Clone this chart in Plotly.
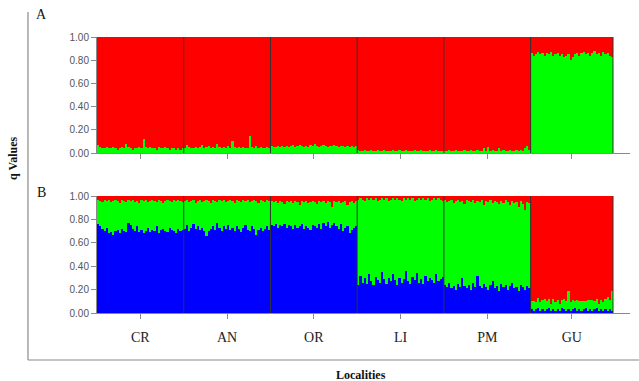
import plotly.graph_objects as go

# Sampling localities and number of individuals per locality
LOCALITIES = ["CR", "AN", "OR", "LI", "PM", "GU"]
COUNTS = [40, 40, 40, 40, 40, 38]

# Panel A (K = 2): membership coefficients per individual
A_GREEN = [
    # CR
    0.07, 0.05, 0.04, 0.04, 0.05, 0.04, 0.04, 0.05, 0.04, 0.03,
    0.04, 0.05, 0.04, 0.08, 0.05, 0.04, 0.03, 0.04, 0.04, 0.05,
    0.04, 0.12, 0.05, 0.04, 0.05, 0.04, 0.04, 0.03, 0.05, 0.04,
    0.04, 0.05, 0.04, 0.03, 0.04, 0.04, 0.03, 0.04, 0.03, 0.04,
    # AN
    0.04, 0.07, 0.05, 0.04, 0.04, 0.05, 0.04, 0.05, 0.07, 0.04,
    0.05, 0.06, 0.04, 0.05, 0.04, 0.08, 0.05, 0.04, 0.05, 0.04,
    0.06, 0.04, 0.10, 0.05, 0.04, 0.05, 0.04, 0.05, 0.04, 0.04,
    0.15, 0.05, 0.04, 0.06, 0.04, 0.05, 0.04, 0.04, 0.05, 0.04,
    # OR
    0.06, 0.05, 0.05, 0.06, 0.05, 0.06, 0.05, 0.06, 0.05, 0.06,
    0.07, 0.05, 0.06, 0.07, 0.06, 0.05, 0.06, 0.05, 0.07, 0.06,
    0.08, 0.06, 0.05, 0.06, 0.07, 0.06, 0.05, 0.06, 0.06, 0.07,
    0.06, 0.05, 0.06, 0.06, 0.05, 0.06, 0.05, 0.06, 0.05, 0.06,
    # LI
    0.03, 0.02, 0.02, 0.03, 0.02, 0.02, 0.03, 0.02, 0.02, 0.03,
    0.02, 0.02, 0.03, 0.02, 0.02, 0.02, 0.03, 0.02, 0.02, 0.03,
    0.02, 0.02, 0.03, 0.02, 0.02, 0.02, 0.03, 0.02, 0.02, 0.03,
    0.02, 0.02, 0.02, 0.03, 0.02, 0.02, 0.03, 0.02, 0.02, 0.02,
    # PM
    0.02, 0.02, 0.03, 0.02, 0.02, 0.03, 0.02, 0.02, 0.02, 0.03,
    0.02, 0.02, 0.03, 0.02, 0.02, 0.03, 0.02, 0.02, 0.04, 0.02,
    0.05, 0.02, 0.03, 0.02, 0.02, 0.04, 0.02, 0.03, 0.02, 0.02,
    0.03, 0.02, 0.02, 0.03, 0.02, 0.03, 0.02, 0.04, 0.06, 0.03,
    # GU
    0.86, 0.84, 0.85, 0.87, 0.85, 0.86, 0.84, 0.86, 0.85, 0.87,
    0.84, 0.85, 0.86, 0.84, 0.85, 0.83, 0.84, 0.85, 0.80, 0.83,
    0.85, 0.86, 0.84, 0.86, 0.87, 0.85, 0.86, 0.84,
    0.86, 0.88, 0.85, 0.86, 0.84, 0.87, 0.85, 0.86, 0.84, 0.83,
]

A_RED = [
    # CR
    0.93, 0.95, 0.96, 0.96, 0.95, 0.96, 0.96, 0.95, 0.96, 0.97,
    0.96, 0.95, 0.96, 0.92, 0.95, 0.96, 0.97, 0.96, 0.96, 0.95,
    0.96, 0.88, 0.95, 0.96, 0.95, 0.96, 0.96, 0.97, 0.95, 0.96,
    0.96, 0.95, 0.96, 0.97, 0.96, 0.96, 0.97, 0.96, 0.97, 0.96,
    # AN
    0.96, 0.93, 0.95, 0.96, 0.96, 0.95, 0.96, 0.95, 0.93, 0.96,
    0.95, 0.94, 0.96, 0.95, 0.96, 0.92, 0.95, 0.96, 0.95, 0.96,
    0.94, 0.96, 0.90, 0.95, 0.96, 0.95, 0.96, 0.95, 0.96, 0.96,
    0.85, 0.95, 0.96, 0.94, 0.96, 0.95, 0.96, 0.96, 0.95, 0.96,
    # OR
    0.94, 0.95, 0.95, 0.94, 0.95, 0.94, 0.95, 0.94, 0.95, 0.94,
    0.93, 0.95, 0.94, 0.93, 0.94, 0.95, 0.94, 0.95, 0.93, 0.94,
    0.92, 0.94, 0.95, 0.94, 0.93, 0.94, 0.95, 0.94, 0.94, 0.93,
    0.94, 0.95, 0.94, 0.94, 0.95, 0.94, 0.95, 0.94, 0.95, 0.94,
    # LI
    0.97, 0.98, 0.98, 0.97, 0.98, 0.98, 0.97, 0.98, 0.98, 0.97,
    0.98, 0.98, 0.97, 0.98, 0.98, 0.98, 0.97, 0.98, 0.98, 0.97,
    0.98, 0.98, 0.97, 0.98, 0.98, 0.98, 0.97, 0.98, 0.98, 0.97,
    0.98, 0.98, 0.98, 0.97, 0.98, 0.98, 0.97, 0.98, 0.98, 0.98,
    # PM
    0.98, 0.98, 0.97, 0.98, 0.98, 0.97, 0.98, 0.98, 0.98, 0.97,
    0.98, 0.98, 0.97, 0.98, 0.98, 0.97, 0.98, 0.98, 0.96, 0.98,
    0.95, 0.98, 0.97, 0.98, 0.98, 0.96, 0.98, 0.97, 0.98, 0.98,
    0.97, 0.98, 0.98, 0.97, 0.98, 0.97, 0.98, 0.96, 0.94, 0.97,
    # GU
    0.14, 0.16, 0.15, 0.13, 0.15, 0.14, 0.16, 0.14, 0.15, 0.13,
    0.16, 0.15, 0.14, 0.16, 0.15, 0.17, 0.16, 0.15, 0.20, 0.17,
    0.15, 0.14, 0.16, 0.14, 0.13, 0.15, 0.14, 0.16,
    0.14, 0.12, 0.15, 0.14, 0.16, 0.13, 0.15, 0.14, 0.16, 0.17,
]

# Panel B (K = 3): membership coefficients per individual
B_BLUE = [
    # CR
    0.76, 0.74, 0.72, 0.70, 0.73, 0.68, 0.69, 0.67, 0.70, 0.71,
    0.68, 0.72, 0.70, 0.69, 0.77, 0.75, 0.72, 0.70, 0.74, 0.69,
    0.71, 0.68, 0.70, 0.73, 0.69, 0.71, 0.70, 0.74, 0.68, 0.71,
    0.72, 0.70, 0.69, 0.73, 0.71, 0.70, 0.68, 0.72, 0.70, 0.71,
    # AN
    0.72, 0.75, 0.70, 0.73, 0.76, 0.72, 0.74, 0.71, 0.73, 0.70,
    0.66, 0.70, 0.72, 0.74, 0.71, 0.77, 0.73, 0.70, 0.74, 0.72,
    0.75, 0.71, 0.73, 0.70, 0.74, 0.72, 0.69, 0.73, 0.75, 0.71,
    0.70, 0.74, 0.72, 0.67, 0.71, 0.73, 0.70, 0.72, 0.74, 0.71,
    # OR
    0.75, 0.74, 0.76, 0.73, 0.75, 0.74, 0.76, 0.73, 0.75, 0.74,
    0.72, 0.75, 0.73, 0.74, 0.76, 0.72, 0.74, 0.73, 0.71, 0.75,
    0.74, 0.73, 0.76, 0.72, 0.77, 0.74, 0.78, 0.73, 0.75, 0.77,
    0.74, 0.72, 0.76, 0.70, 0.73, 0.74, 0.68, 0.71, 0.73, 0.74,
    # LI
    0.24, 0.32, 0.26, 0.30, 0.25, 0.33, 0.27, 0.24, 0.31, 0.28,
    0.26, 0.35, 0.29, 0.25, 0.30, 0.27, 0.33, 0.28, 0.24, 0.30,
    0.26, 0.29, 0.36, 0.27, 0.25, 0.31, 0.28, 0.34, 0.26, 0.29,
    0.25, 0.32, 0.27, 0.30, 0.28, 0.26, 0.33, 0.27, 0.29, 0.31,
    # PM
    0.24, 0.22, 0.26, 0.21, 0.23, 0.20, 0.25, 0.22, 0.30, 0.23,
    0.21, 0.24, 0.20, 0.26, 0.22, 0.32, 0.23, 0.21, 0.25, 0.22,
    0.20, 0.24, 0.27, 0.21, 0.23, 0.19, 0.25, 0.22, 0.24, 0.20,
    0.23, 0.26, 0.21, 0.22, 0.19, 0.24, 0.22, 0.20, 0.23, 0.21,
    # GU
    0.03, 0.02, 0.03, 0.04, 0.02, 0.03, 0.02, 0.03, 0.04, 0.02,
    0.03, 0.02, 0.03, 0.02, 0.04, 0.03, 0.02, 0.03, 0.02, 0.03,
    0.04, 0.02, 0.03, 0.02, 0.03, 0.04, 0.02, 0.03,
    0.02, 0.03, 0.04, 0.02, 0.03, 0.02, 0.03, 0.02, 0.03, 0.02,
]

B_GREEN = [
    # CR
    0.21, 0.22, 0.23, 0.27, 0.23, 0.29, 0.26, 0.29, 0.27, 0.25,
    0.26, 0.25, 0.26, 0.26, 0.20, 0.21, 0.25, 0.25, 0.22, 0.25,
    0.26, 0.28, 0.27, 0.22, 0.27, 0.26, 0.26, 0.21, 0.29, 0.25,
    0.22, 0.26, 0.28, 0.23, 0.24, 0.27, 0.28, 0.25, 0.26, 0.24,
    # AN
    0.24, 0.22, 0.25, 0.23, 0.21, 0.22, 0.22, 0.26, 0.22, 0.26,
    0.31, 0.26, 0.22, 0.23, 0.25, 0.18, 0.24, 0.26, 0.23, 0.23,
    0.21, 0.26, 0.23, 0.24, 0.23, 0.24, 0.26, 0.24, 0.21, 0.26,
    0.25, 0.22, 0.25, 0.29, 0.23, 0.24, 0.26, 0.23, 0.23, 0.25,
    # OR
    0.21, 0.21, 0.20, 0.21, 0.21, 0.21, 0.17, 0.23, 0.20, 0.22,
    0.22, 0.21, 0.22, 0.18, 0.20, 0.23, 0.22, 0.21, 0.24, 0.21,
    0.21, 0.20, 0.20, 0.23, 0.19, 0.20, 0.18, 0.22, 0.16, 0.19,
    0.21, 0.24, 0.18, 0.25, 0.23, 0.18, 0.27, 0.25, 0.21, 0.22,
    # LI
    0.73, 0.66, 0.71, 0.66, 0.73, 0.64, 0.71, 0.73, 0.67, 0.68,
    0.71, 0.63, 0.68, 0.73, 0.66, 0.70, 0.65, 0.69, 0.74, 0.67,
    0.70, 0.69, 0.61, 0.71, 0.72, 0.67, 0.68, 0.63, 0.72, 0.68,
    0.73, 0.65, 0.71, 0.66, 0.69, 0.72, 0.64, 0.71, 0.68, 0.65,
    # PM
    0.73, 0.73, 0.70, 0.76, 0.71, 0.76, 0.72, 0.73, 0.66, 0.70,
    0.76, 0.72, 0.75, 0.71, 0.72, 0.64, 0.72, 0.76, 0.67, 0.74,
    0.75, 0.73, 0.67, 0.75, 0.72, 0.74, 0.71, 0.72, 0.73, 0.75,
    0.69, 0.70, 0.73, 0.73, 0.72, 0.72, 0.71, 0.68, 0.72, 0.73,
    # GU
    0.07, 0.08, 0.06, 0.09, 0.07, 0.08, 0.10, 0.07, 0.08, 0.06,
    0.09, 0.07, 0.08, 0.06, 0.07, 0.09, 0.08, 0.16, 0.07, 0.08,
    0.06, 0.09, 0.07, 0.08, 0.07, 0.06, 0.09, 0.08,
    0.09, 0.07, 0.08, 0.06, 0.08, 0.07, 0.09, 0.12, 0.08, 0.17,
]

B_RED = [
    # CR
    0.03, 0.04, 0.05, 0.03, 0.04, 0.03, 0.05, 0.04, 0.03, 0.04,
    0.06, 0.03, 0.04, 0.05, 0.03, 0.04, 0.03, 0.05, 0.04, 0.06,
    0.03, 0.04, 0.03, 0.05, 0.04, 0.03, 0.04, 0.05, 0.03, 0.04,
    0.06, 0.04, 0.03, 0.04, 0.05, 0.03, 0.04, 0.03, 0.04, 0.05,
    # AN
    0.04, 0.03, 0.05, 0.04, 0.03, 0.06, 0.04, 0.03, 0.05, 0.04,
    0.03, 0.04, 0.06, 0.03, 0.04, 0.05, 0.03, 0.04, 0.03, 0.05,
    0.04, 0.03, 0.04, 0.06, 0.03, 0.04, 0.05, 0.03, 0.04, 0.03,
    0.05, 0.04, 0.03, 0.04, 0.06, 0.03, 0.04, 0.05, 0.03, 0.04,
    # OR
    0.04, 0.05, 0.04, 0.06, 0.04, 0.05, 0.07, 0.04, 0.05, 0.04,
    0.06, 0.04, 0.05, 0.08, 0.04, 0.05, 0.04, 0.06, 0.05, 0.04,
    0.05, 0.07, 0.04, 0.05, 0.04, 0.06, 0.04, 0.05, 0.09, 0.04,
    0.05, 0.04, 0.06, 0.05, 0.04, 0.08, 0.05, 0.04, 0.06, 0.04,
    # LI
    0.03, 0.02, 0.03, 0.04, 0.02, 0.03, 0.02, 0.03, 0.02, 0.04,
    0.03, 0.02, 0.03, 0.02, 0.04, 0.03, 0.02, 0.03, 0.02, 0.03,
    0.04, 0.02, 0.03, 0.02, 0.03, 0.02, 0.04, 0.03, 0.02, 0.03,
    0.02, 0.03, 0.02, 0.04, 0.03, 0.02, 0.03, 0.02, 0.03, 0.04,
    # PM
    0.03, 0.05, 0.04, 0.03, 0.06, 0.04, 0.03, 0.05, 0.04, 0.07,
    0.03, 0.04, 0.05, 0.03, 0.06, 0.04, 0.05, 0.03, 0.08, 0.04,
    0.05, 0.03, 0.06, 0.04, 0.05, 0.07, 0.04, 0.06, 0.03, 0.05,
    0.08, 0.04, 0.06, 0.05, 0.09, 0.04, 0.07, 0.12, 0.05, 0.06,
    # GU
    0.90, 0.90, 0.91, 0.87, 0.91, 0.89, 0.88, 0.90, 0.88, 0.92,
    0.88, 0.91, 0.89, 0.92, 0.89, 0.88, 0.90, 0.81, 0.91, 0.89,
    0.90, 0.89, 0.90, 0.90, 0.90, 0.90, 0.89, 0.89,
    0.89, 0.90, 0.88, 0.92, 0.89, 0.91, 0.88, 0.86, 0.89, 0.81,
]

RED = "#ff0000"
GREEN = "#00ff00"
BLUE = "#0000ff"
AXIS_GREY = "#8a8a8a"
DIVIDER = "#333333"
SERIF = "Liberation Serif, Times New Roman, serif"
SANS = "Liberation Sans, Arial, sans-serif"

n_ind = sum(COUNTS)
ind = list(range(n_ind))

# Cumulative boundaries and centre of each locality block
bounds = [0]
for c in COUNTS:
    bounds.append(bounds[-1] + c)
group_centers = [(bounds[i] + bounds[i + 1] - 1) / 2 for i in range(len(COUNTS))]
x_range = [-0.5, n_ind - 0.5 + 7.84]

fig = go.Figure()


def add_bar(values, color, xa, ya):
    fig.add_trace(go.Bar(
        x=ind, y=values, width=1, marker=dict(color=color, line=dict(width=0)),
        xaxis=xa, yaxis=ya, showlegend=False, hoverinfo="skip",
    ))


add_bar(A_GREEN, GREEN, "x", "y")
add_bar(A_RED, RED, "x", "y")
add_bar(B_BLUE, BLUE, "x2", "y2")
add_bar(B_GREEN, GREEN, "x2", "y2")
add_bar(B_RED, RED, "x2", "y2")

yaxis_common = dict(
    range=[0, 1], tickvals=[0, 0.2, 0.4, 0.6, 0.8, 1.0], tickformat=".2f",
    ticks="outside", ticklen=5, tickcolor=AXIS_GREY, showline=True,
    linecolor=AXIS_GREY, linewidth=1, showgrid=False, zeroline=False,
    tickfont=dict(family=SANS, size=10, color="#555555"), fixedrange=True,
)
xaxis_common = dict(
    range=x_range, tickvals=group_centers, ticktext=LOCALITIES,
    ticks="outside", ticklen=5, tickcolor=AXIS_GREY, showline=True,
    linecolor=AXIS_GREY, linewidth=1, showgrid=False, zeroline=False,
    fixedrange=True,
)

fig.update_layout(
    width=639, height=381,
    margin=dict(l=97, r=9, t=37, b=68),
    paper_bgcolor="white", plot_bgcolor="white",
    barmode="stack", bargap=0,
    xaxis=dict(xaxis_common, anchor="y", showticklabels=False),
    yaxis=dict(yaxis_common, anchor="x", domain=[0.5797, 1.0]),
    xaxis2=dict(xaxis_common, anchor="y2", showticklabels=True,
                tickfont=dict(family=SERIF, size=14, color="#222222"),
                ticklabelstandoff=6),
    yaxis2=dict(yaxis_common, anchor="x2", domain=[0.0, 0.4239]),
)

# Dividers between localities and the right edge of each panel
shapes = []
for xa, ya in (("x", "y"), ("x2", "y2")):
    for b in bounds[1:]:
        xv = b - 0.5
        shapes.append(dict(type="line", xref=xa, yref=f"{ya} domain",
                           x0=xv, x1=xv, y0=0, y1=1,
                           line=dict(color=DIVIDER, width=1)))

# Outer frame: left and bottom rules
shapes.append(dict(type="line", xref="paper", yref="paper",
                   x0=-0.1295, x1=-0.1295, y0=1.0906, y1=-0.1703,
                   line=dict(color=AXIS_GREY, width=1.2)))
shapes.append(dict(type="line", xref="paper", yref="paper",
                   x0=-0.1295, x1=1.02, y0=-0.1703, y1=-0.1703,
                   line=dict(color=AXIS_GREY, width=1.2)))
fig.update_layout(shapes=shapes)

annotations = [
    dict(text="A", x=-0.1032, y=1.0833, xref="paper", yref="paper",
         showarrow=False, font=dict(family=SERIF, size=14, color="#111111"),
         xanchor="center", yanchor="middle"),
    dict(text="B", x=-0.1032, y=0.4384, xref="paper", yref="paper",
         showarrow=False, font=dict(family=SERIF, size=14, color="#111111"),
         xanchor="center", yanchor="middle"),
    dict(text="<b>q Values</b>", x=-0.1576, y=0.562, xref="paper", yref="paper",
         showarrow=False, textangle=-90,
         font=dict(family=SERIF, size=12, color="#111111"),
         xanchor="center", yanchor="middle"),
    dict(text="<b>Localities</b>", x=0.4953, y=-0.225, xref="paper", yref="paper",
         showarrow=False, font=dict(family=SERIF, size=12, color="#111111"),
         xanchor="center", yanchor="middle"),
]
fig.update_layout(annotations=annotations)

fig.write_html("out.html")
